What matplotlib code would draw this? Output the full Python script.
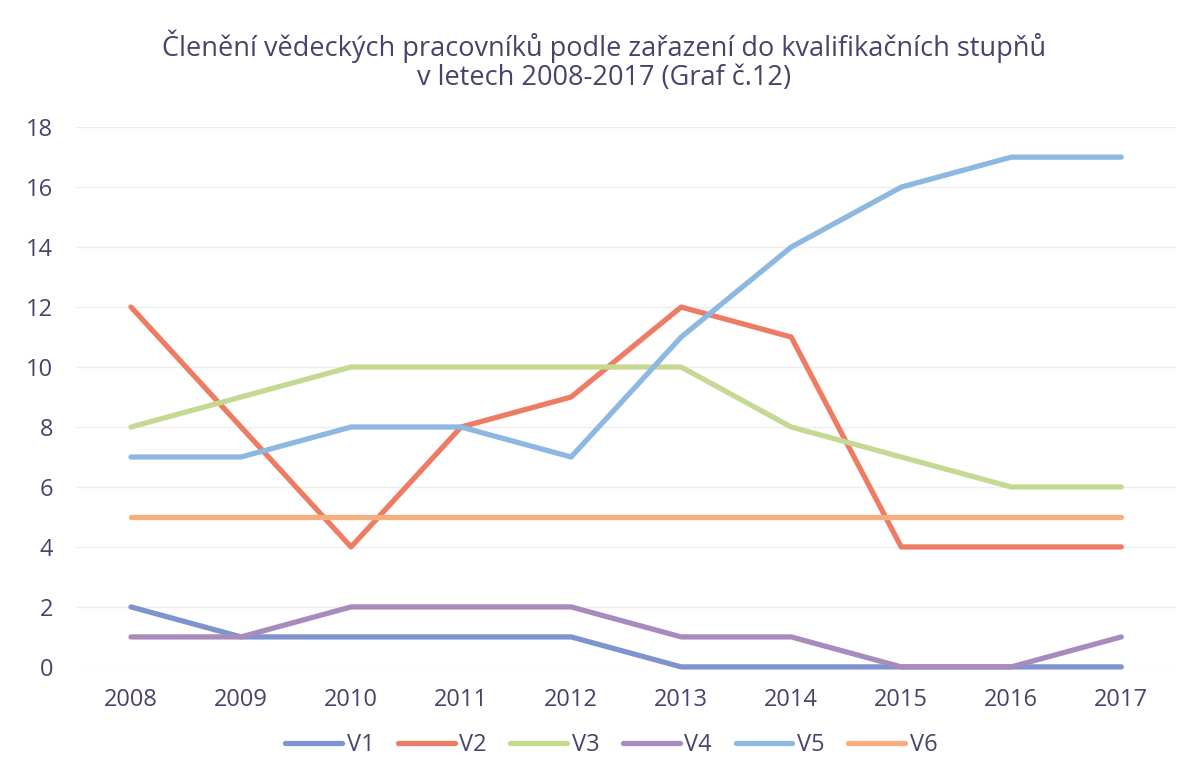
import matplotlib.pyplot as plt

plt.rcParams['font.family'] = ['Open Sans', 'DejaVu Sans']

years = ["2008", "2009", "2010", "2011", "2012", "2013", "2014", "2015", "2016", "2017"]
series_names = ["V1", "V2", "V3", "V4", "V5", "V6"]
v1 = [2, 1, 1, 1, 1, 0, 0, 0, 0, 0]
v2 = [12, 8, 4, 8, 9, 12, 11, 4, 4, 4]
v3 = [8, 9, 10, 10, 10, 10, 8, 7, 6, 6]
v4 = [1, 1, 2, 2, 2, 1, 1, 0, 0, 1]
v5 = [7, 7, 8, 8, 7, 11, 14, 16, 17, 17]
v6 = [5, 5, 5, 5, 5, 5, 5, 5, 5, 5]
colors = ["#7f93cf", "#ee7c64", "#c6d993", "#a88bbd", "#8db8e2", "#f5ae7e"]

text_color = "#45456b"

fig = plt.figure(figsize=(11.87, 7.8), dpi=100)
ax = fig.add_axes([0.064, 0.145, 0.927, 0.692])

x = list(range(len(years)))
for name, vals, c in zip(series_names, [v1, v2, v3, v4, v5, v6], colors):
    ax.plot(x, vals, color=c, lw=3.8, solid_capstyle='round',
            solid_joinstyle='round', label=name, clip_on=False)

ax.set_xlim(-0.5, len(years) - 0.5)
ax.set_ylim(0, 18)
ax.set_yticks(range(0, 19, 2))
ax.set_xticks(x)
ax.set_xticklabels(years)
ax.tick_params(axis='both', length=0, labelsize=17, colors=text_color)
ax.tick_params(axis='x', pad=15)
ax.tick_params(axis='y', pad=16.5)
ax.grid(axis='y', color="#eeeeee", lw=1)
ax.set_axisbelow(True)
for s in ax.spines.values():
    s.set_visible(False)

fig.suptitle("Členění vědeckých pracovníků podle zařazení do kvalifikačních stupňů\n"
             "v letech 2008-2017 (Graf č.12)",
             x=0.509, y=0.962, fontsize=19.5, color=text_color, linespacing=1.05)

leg = fig.legend(loc='center', bbox_to_anchor=(0.515, 0.045), ncol=6, frameon=False,
                 fontsize=17, handlelength=2.4, columnspacing=1.0, handletextpad=0.2)
for t in leg.get_texts():
    t.set_color(text_color)

fig.savefig("out.png", dpi=100)
